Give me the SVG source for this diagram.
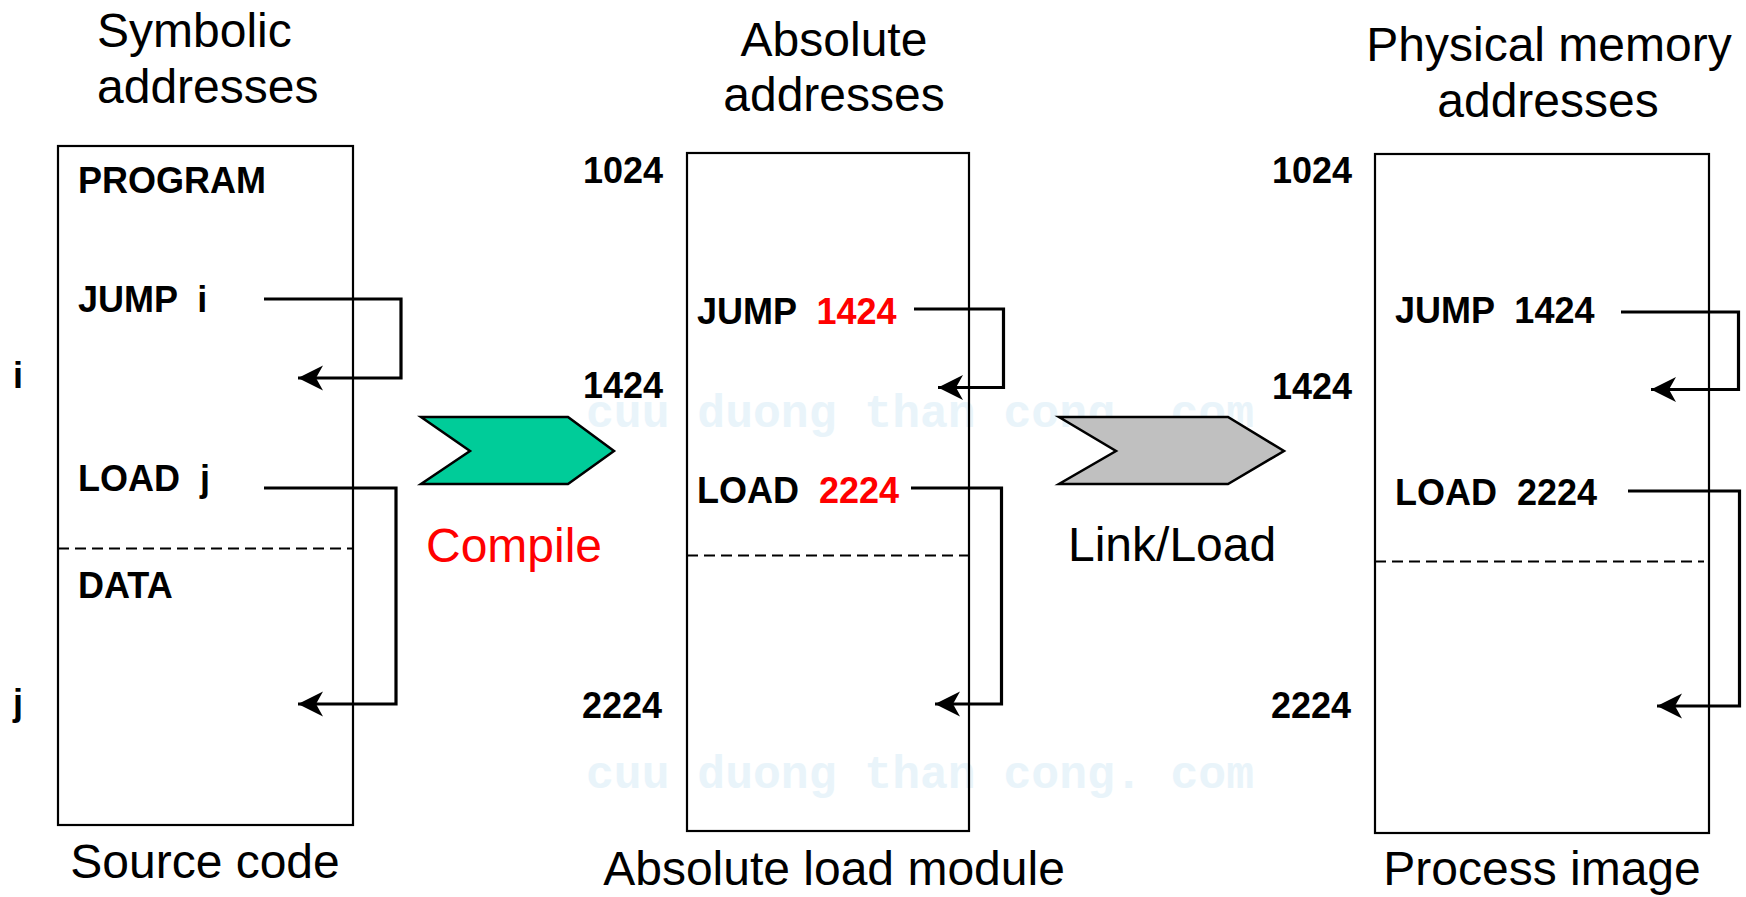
<svg xmlns="http://www.w3.org/2000/svg" width="1746" height="897" viewBox="0 0 1746 897">
<style>
.bg{fill:#ffffff}
.title{font-family:"Liberation Sans",Arial,sans-serif;font-size:48px;fill:#000}
.lbl{font-family:"Liberation Sans",Arial,sans-serif;font-size:36px;font-weight:bold;fill:#000}
.red{fill:#ff0000}
.box{fill:none;stroke:#000;stroke-width:2.2}
.dash{fill:none;stroke:#000;stroke-width:2;stroke-dasharray:11 6}
.conn{fill:none;stroke:#000;stroke-width:3.2}
.wm{font-family:"Liberation Mono","DejaVu Sans Mono",monospace;font-size:46px;font-weight:bold;fill:#e9f4fa}
</style>
<defs>
<marker id="arr" viewBox="0 -13 26 26" refX="25" refY="0" markerWidth="26" markerHeight="26" markerUnits="userSpaceOnUse" orient="auto">
<path d="M0,-12.5 L25,0 L0,12.5 L7,0 Z" fill="#000"/>
</marker>
</defs>
<rect class="bg" x="0" y="0" width="1746" height="897"/>
<g id="watermark">
<text class="wm" x="586" y="427" textLength="668" lengthAdjust="spacingAndGlyphs" xml:space="preserve">cuu duong than cong. com</text>
<text class="wm" x="586" y="788" textLength="668" lengthAdjust="spacingAndGlyphs" xml:space="preserve">cuu duong than cong. com</text>
</g>
<g id="source">
<text class="title" x="97" y="47">Symbolic</text>
<text class="title" x="97" y="103">addresses</text>
<rect class="box" x="58" y="146" width="295" height="679"/>
<text class="lbl" x="78" y="193">PROGRAM</text>
<text class="lbl" x="78" y="312" xml:space="preserve">JUMP  i</text>
<text class="lbl" x="78" y="491" xml:space="preserve">LOAD  j</text>
<line class="dash" x1="58" y1="548.5" x2="352" y2="548.5"/>
<text class="lbl" x="78" y="598">DATA</text>
<text class="lbl" x="13" y="388">i</text>
<text class="lbl" x="13" y="715">j</text>
<text class="title" x="205" y="878" text-anchor="middle">Source code</text>
</g>
<g id="compile">
<polygon points="421,417 568,417 614,451 568,484 421,484 470,451" fill="#00cc99" stroke="#000" stroke-width="2.5" stroke-linejoin="miter"/>
<text class="title red" x="426" y="562">Compile</text>
</g>
<g id="absolute">
<text class="title" x="834" y="56" text-anchor="middle">Absolute</text>
<text class="title" x="834" y="111" text-anchor="middle">addresses</text>
<rect class="box" x="687" y="153" width="282" height="678"/>
<text class="lbl" x="583" y="183">1024</text>
<text class="lbl" x="697" y="324" xml:space="preserve">JUMP  <tspan class="red">1424</tspan></text>
<text class="lbl" x="583" y="398">1424</text>
<text class="lbl" x="697" y="503" xml:space="preserve">LOAD  <tspan class="red">2224</tspan></text>
<line class="dash" x1="687" y1="555.5" x2="973" y2="555.5"/>
<text class="lbl" x="582" y="718">2224</text>
<text class="title" x="834" y="885" text-anchor="middle">Absolute load module</text>
</g>
<g id="linkload">
<polygon points="1059,417 1228,417 1284,451 1228,484 1059,484 1116,451" fill="#c0c0c0" stroke="#000" stroke-width="2.5"/>
<text class="title" x="1068" y="561">Link/Load</text>
</g>
<g id="process">
<text class="title" x="1549" y="61" text-anchor="middle">Physical memory</text>
<text class="title" x="1548" y="117" text-anchor="middle">addresses</text>
<rect class="box" x="1375" y="154" width="334" height="679"/>
<text class="lbl" x="1272" y="183">1024</text>
<text class="lbl" x="1395" y="323" xml:space="preserve">JUMP  1424</text>
<text class="lbl" x="1272" y="399">1424</text>
<text class="lbl" x="1395" y="505" xml:space="preserve">LOAD  2224</text>
<line class="dash" x1="1375" y1="561.5" x2="1704" y2="561.5"/>
<text class="lbl" x="1271" y="718">2224</text>
<text class="title" x="1542" y="885" text-anchor="middle">Process image</text>
</g>
<g id="connectors">
<polyline class="conn" points="264,299 401,299 401,378 298,378" marker-end="url(#arr)"/>
<polyline class="conn" points="264,488 396,488 396,704 298,704" marker-end="url(#arr)"/>
<polyline class="conn" points="914,309 1003.5,309 1003.5,387.5 938,387.5" marker-end="url(#arr)"/>
<polyline class="conn" points="911,488 1001.5,488 1001.5,704 935,704" marker-end="url(#arr)"/>
<polyline class="conn" points="1621,312 1738.5,312 1738.5,389.5 1651,389.5" marker-end="url(#arr)"/>
<polyline class="conn" points="1628,491 1739.5,491 1739.5,706 1657,706" marker-end="url(#arr)"/>
</g>
</svg>
